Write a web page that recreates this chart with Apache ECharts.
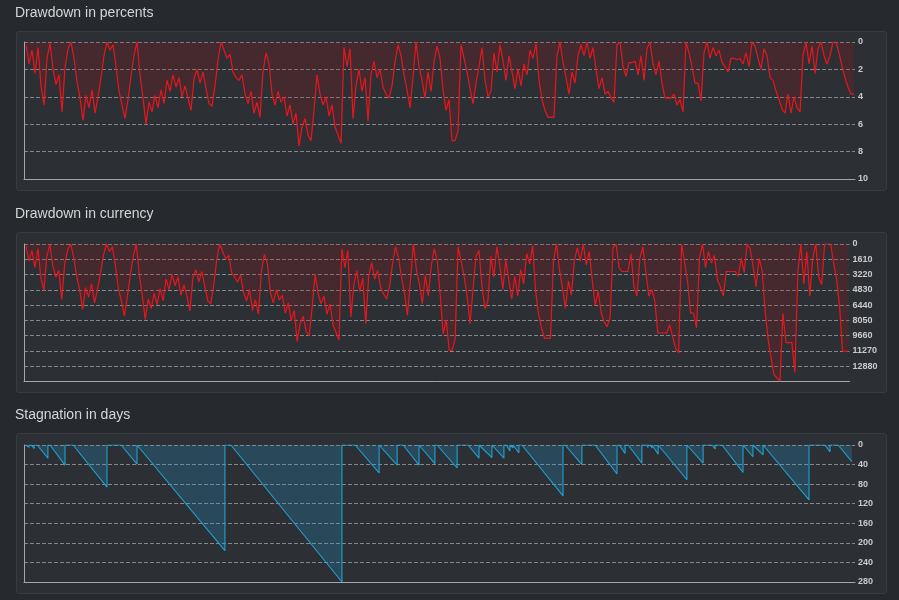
<!DOCTYPE html>
<html><head><meta charset="utf-8">
<script src="https://cdn.jsdelivr.net/npm/echarts@6/dist/echarts.min.js"></script>
<style>
html,body{margin:0;padding:0;background:#26292d;}
#wrap{position:relative;width:899px;height:600px;overflow:hidden;}
.panel{position:absolute;left:16px;width:869px;background:#2c3035;border:1px solid #383c41;border-radius:3px;}
#c{position:absolute;left:0;top:0;width:899px;height:600px;}
</style>
</head><body>
<div id="wrap">
<div class="panel" style="top:31px;height:158px"></div>
<div class="panel" style="top:232px;height:159px"></div>
<div class="panel" style="top:433px;height:159px"></div>
<div id="c"></div>
</div>
<script>
const titles = ['Drawdown in percents', 'Drawdown in currency', 'Stagnation in days'];
const pctTicks = [0, 2, 4, 6, 8, 10];
const curTicks = [0, 1610, 3220, 4830, 6440, 8050, 9660, 11270, 12880];
const curMax = 14490;
const stagTicks = [0, 40, 80, 120, 160, 200, 240, 280];

const ddPercent = [
0.2,1.6,0.6,2.3,0.4,3.2,4.6,1.2,0.1,2.0,
3.1,2.4,5.1,1.9,0.5,0.0,1.2,2.9,4.1,5.7,
3.9,4.8,3.5,5.2,4.0,2.6,1.0,0.0,0.6,0.2,
1.8,3.6,4.6,5.6,4.2,2.5,1.0,0.0,2.4,4.1,
6.0,4.4,5.1,3.9,4.8,3.5,4.5,2.8,3.6,2.4,
3.3,2.6,4.0,3.2,4.1,5.0,2.7,2.0,3.0,2.2,
3.4,4.5,4.7,3.2,1.3,0.0,0.6,1.2,0.9,2.2,
2.6,2.8,2.4,3.8,4.5,3.6,5.2,4.4,5.5,2.2,
0.8,1.6,3.8,4.6,3.6,4.4,4.0,5.4,4.6,6.0,
5.2,7.6,6.2,5.6,6.8,7.2,5.0,2.4,3.8,4.6,
4.0,5.4,4.6,6.2,6.8,7.4,0.4,1.8,0.5,5.6,
3.2,2.0,3.6,2.6,5.8,2.4,1.4,2.6,2.0,3.3,
3.8,4.1,3.2,1.5,0.2,1.0,2.4,3.5,4.8,2.6,
0.0,1.8,2.8,4.1,2.2,3.6,1.5,0.3,1.2,3.5,
5.0,4.2,7.2,7.2,6.5,0.2,1.2,2.2,3.4,4.5,
3.0,1.8,0.4,2.8,4.0,3.6,0.8,2.2,0.2,1.4,
2.8,1.0,2.2,3.4,2.0,3.2,1.6,2.4,0.6,1.2,
0.1,2.8,4.2,5.0,5.5,5.5,5.5,1.0,0.0,1.5,
2.6,3.8,2.2,3.0,1.0,0.2,1.0,0.0,1.2,0.4,
2.0,3.4,2.6,3.8,3.6,4.1,4.4,0.2,0.0,1.8,
2.5,1.5,1.5,1.4,2.4,1.0,2.8,0.5,0.0,1.6,
2.4,1.4,3.0,4.1,4.1,4.1,3.8,4.6,4.2,5.1,
0.0,0.8,1.8,3.0,3.0,4.3,0.8,0.0,1.2,0.4,
1.0,0.6,1.5,1.8,2.2,1.2,1.2,1.3,1.2,1.6,
0.8,1.8,0.0,0.3,1.2,2.0,0.5,1.0,2.6,2.8,
3.6,4.2,4.9,5.2,3.8,5.2,4.0,4.8,5.1,1.0,
0.0,1.6,0.3,2.3,0.5,0.0,1.0,1.6,1.0,0.0,
0.0,0.8,1.8,2.6,3.3,3.8,3.8
];

const ddCurrency = [
200,1800,700,2500,500,3600,4900,1300,100,2300,
3500,2800,5850,2100,600,0,1400,3400,4800,6900,
4600,5600,4200,6200,4800,3100,1200,0,800,300,
2300,4700,6000,7600,5600,3300,1300,0,3200,5400,
7950,5800,6800,5200,6400,4700,6000,3700,4800,3200,
4400,3500,5400,4300,5500,7050,3600,2700,4000,2900,
4500,6000,6300,4300,1700,0,800,1600,1200,3000,
3500,4000,3300,5100,6000,4800,7000,5900,7400,2900,
1100,2100,5100,6200,4800,5900,5400,7300,6200,8100,
7000,10300,8400,7600,9200,9700,6800,3200,5200,6300,
5500,7400,6300,8500,9300,10150,500,2500,700,7700,
4400,2800,5000,3600,8400,3400,2000,3700,2800,4600,
5300,5800,4500,2100,300,1500,3500,5200,7500,3900,
0,2700,4200,6300,3300,5500,2300,500,1800,5400,
9500,8000,11200,11200,10000,300,1800,3400,5500,8400,
4800,1300,700,4500,6800,6000,1300,3500,300,2300,
4800,1700,3800,5800,3400,5500,2700,4200,1000,2100,
200,5000,7400,8900,9950,9950,9950,1800,0,2700,
4600,6800,3900,5400,1800,400,1800,0,2200,800,
3800,6500,5000,7300,8200,8700,7800,400,0,2500,
2900,2900,2900,1000,4500,5500,1500,300,3000,5500,
4800,6000,9380,9380,9380,9380,8500,9800,11000,11480,
0,2000,4000,7280,7280,8850,1500,0,2500,800,
2000,1200,3800,4500,5500,2900,2900,2900,2900,3400,
1500,3000,0,500,2400,4500,1500,2800,7000,10000,
12000,13800,14100,14450,7300,10400,10400,10400,13550,3000,
0,4200,800,5500,1500,0,3500,4300,0,0,
0,2000,3700,6600,11300,11300,11300
];

// stagnation periods: start index, end index, days reached at end
const stagStart = [0.3,1.7,3.7,8.0,15.7,31.7,37.3,68.3,109.7,118.0,125.7,131.3,137.0,147.3,151.3,155.7,160.0,161.7,162.7,165.3,179.7,189.7,197.7,200.7,207.0,208.0,209.0,211.0,220.7,228.7,232.0,239.3,242.7,246.0,266.3,270.7];
const stagEnd   = [1.0,2.7,7.3,13.0,27.0,37.0,66.3,105.3,117.7,123.7,131.0,136.3,143.7,151.0,155.3,159.3,161.3,162.3,164.3,179.0,185.3,197.0,199.7,205.3,207.3,208.7,210.7,220.3,225.7,229.7,239.0,242.3,245.7,261.0,268.0,275.3];
const stagDays  = [5,7,27,41,86,39,216,280,57,41,41,38,47,27,26,27,12,6,16,104,40,59,17,37,5,6,19,71,37,8,56,24,20,112,14,34];

const stagData = [[0, 0]];
stagStart.forEach((s, k) => {
  stagData.push([s, 0]);
  stagData.push([stagEnd[k], stagDays[k]]);
  if (k < stagStart.length - 1) stagData.push([stagEnd[k], 0]);
});

const xMin = -0.67, xMax = 276.33;
const gridDefs = [
  {left: 24, right: 44, top: 42, height: 137},
  {left: 24, right: 49.5, top: 244, height: 137.5},
  {left: 24, right: 44, top: 445, height: 137}
];
const yDefs = [
  {max: pctTicks[pctTicks.length - 1], interval: pctTicks[1] - pctTicks[0], showMax: true},
  {max: curMax, interval: curTicks[1] - curTicks[0], showMax: false},
  {max: stagTicks[stagTicks.length - 1], interval: stagTicks[1] - stagTicks[0], showMax: true}
];

const xAxes = gridDefs.map((g, k) => ({
  type: 'value', gridIndex: k, min: xMin, max: xMax, position: 'bottom',
  axisLine: {show: true, onZero: false, lineStyle: {color: '#a4a7aa', width: 1}},
  axisTick: {show: false}, axisLabel: {show: false}, splitLine: {show: false}
}));
const yRight = yDefs.map((d, k) => ({
  type: 'value', gridIndex: k, inverse: true, position: 'right', min: 0, max: d.max, interval: d.interval,
  axisLine: {show: false}, axisTick: {show: false},
  axisLabel: {show: true, showMaxLabel: d.showMax, color: '#c9cacb', fontSize: 9, fontWeight: 'bold',
    fontFamily: 'Arial, Liberation Sans, sans-serif', margin: 3, formatter: v => String(v)},
  splitLine: {show: true, lineStyle: {color: '#85888c', width: 1, type: [4, 2]}}
}));
const yLeft = yDefs.map((d, k) => ({
  type: 'value', gridIndex: k, inverse: true, position: 'left', min: 0, max: d.max,
  axisLine: {show: true, lineStyle: {color: '#a4a7aa', width: 1}},
  axisTick: {show: false}, axisLabel: {show: false}, splitLine: {show: false}
}));

const red = '#e8161c', redFill = 'rgba(150,25,30,0.33)';
const blue = '#1fa0d3', blueFill = 'rgba(33,150,200,0.35)';

const option = {
  backgroundColor: 'transparent',
  animation: false,
  title: titles.map((t, k) => ({
    text: t, left: 15, top: [6, 207, 408][k], padding: 0,
    textStyle: {color: '#d5d6d7', fontSize: 14, fontWeight: 'normal', fontFamily: 'Arial, Liberation Sans, sans-serif'}
  })),
  grid: gridDefs,
  xAxis: xAxes,
  yAxis: yRight.concat(yLeft),
  series: [
    {type: 'line', xAxisIndex: 0, yAxisIndex: 0, symbol: 'none', data: ddPercent.map((v, i) => [i, v]),
     lineStyle: {color: red, width: 1.2}, areaStyle: {color: redFill}},
    {type: 'line', xAxisIndex: 1, yAxisIndex: 1, symbol: 'none', data: ddCurrency.map((v, i) => [i, v]),
     lineStyle: {color: red, width: 1.2}, areaStyle: {color: redFill}},
    {type: 'line', xAxisIndex: 2, yAxisIndex: 2, symbol: 'none', data: stagData,
     lineStyle: {color: blue, width: 1.1}, areaStyle: {color: blueFill}}
  ]
};
const chart = echarts.init(document.getElementById('c'));
chart.setOption(option);
</script>
</body></html>
